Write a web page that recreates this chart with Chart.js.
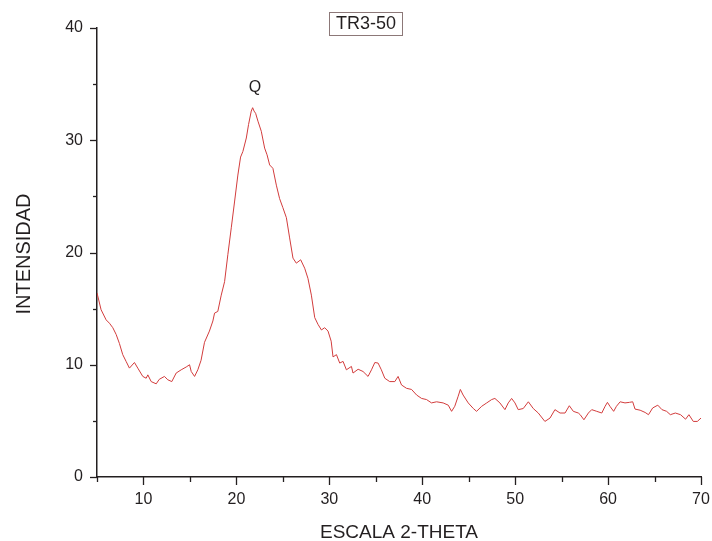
<!DOCTYPE html>
<html>
<head>
<meta charset="utf-8">
<script src="https://cdn.jsdelivr.net/npm/chart.js@4.4.1/dist/chart.umd.min.js"></script>
<style>
    html, body { margin: 0; padding: 0; background: #fff; }
    #wrap { position: relative; width: 712px; height: 541px; }
</style>
</head>
<body>
<div id="wrap"><canvas id="xrd"></canvas></div>
<script>
// difractograma TR3-50, valores
const angulo = [
    5.0, 5.44, 5.98, 6.34, 6.7, 7.06, 7.41, 7.77, 8.13, 8.49, 9.03, 9.39, 9.93, 10.29, 10.47, 10.83,
    11.37, 11.7, 12.26, 12.62, 13.05, 13.52, 14.06, 14.6, 14.96, 15.14, 15.5, 15.85, 16.2, 16.57, 17.1,
    17.47, 17.65, 18.0, 18.37, 18.73, 19.08, 19.45, 19.8, 20.16, 20.45, 20.7, 21.07, 21.31, 21.6, 21.75,
    21.9, 22.07, 22.32, 22.68, 23.04, 23.3, 23.58, 23.93, 24.3, 24.65, 25.0, 25.38, 25.73, 26.09, 26.45,
    26.92, 27.35, 27.7, 28.07, 28.43, 28.78, 29.15, 29.5, 29.86, 30.2, 30.4, 30.77, 31.12, 31.48, 31.84,
    32.38, 32.55, 33.1, 33.63, 34.17, 34.54, 34.9, 35.25, 35.6, 35.97, 36.5, 37.05, 37.4, 37.77, 38.31,
    38.85, 39.4, 39.93, 40.46, 41.0, 41.54, 42.25, 42.8, 43.16, 43.5, 43.87, 44.1, 44.4, 44.95, 45.5,
    45.85, 46.4, 46.94, 47.47, 47.82, 48.36, 48.9, 49.26, 49.62, 49.98, 50.33, 50.87, 51.42, 51.95, 52.49,
    53.2, 53.75, 54.28, 54.83, 55.37, 55.83, 56.26, 56.8, 57.0, 57.4, 57.88, 58.24, 58.78, 59.32, 59.68,
    59.93, 60.2, 60.6, 60.9, 61.3, 61.82, 62.3, 62.65, 62.9, 63.45, 63.99, 64.35, 64.8, 65.35, 65.8,
    66.3, 66.7, 67.24, 67.8, 68.34, 68.7, 69.17, 69.6, 70.0
];
const intensidad = [
    16.4, 14.9, 14.0, 13.7, 13.3, 12.7, 11.9, 10.9, 10.3, 9.7, 10.2, 9.7, 8.96, 8.8, 9.1, 8.5,
    8.3, 8.7, 8.96, 8.66, 8.5, 9.26, 9.55, 9.8, 10.0, 9.4, 8.96, 9.55, 10.4, 12.0, 13.0,
    13.9, 14.6, 14.75, 16.2, 17.4, 19.8, 22.2, 24.5, 26.9, 28.5, 29.0, 30.2, 31.4, 32.6, 32.9,
    32.6, 32.4, 31.7, 30.8, 29.3, 28.7, 27.8, 27.5, 26.0, 24.8, 24.0, 23.1, 21.3, 19.5, 19.05,
    19.35, 18.6, 17.7, 16.2, 14.2, 13.6, 13.1, 13.3, 13.0, 12.1, 10.7, 10.9, 10.15, 10.3, 9.55,
    9.85, 9.26, 9.6, 9.4, 8.96, 9.55, 10.2, 10.15, 9.55, 8.8, 8.5, 8.5, 8.96, 8.2, 7.9,
    7.8, 7.3, 7.0, 6.9, 6.6, 6.7, 6.6, 6.4, 5.85, 6.3, 7.2, 7.8, 7.3, 6.6, 6.1,
    5.85, 6.3, 6.6, 6.9, 7.0, 6.6, 6.0, 6.6, 7.0, 6.6, 6.0, 6.1, 6.7, 6.1, 5.7,
    4.95, 5.25, 6.0, 5.7, 5.7, 6.35, 5.85, 5.7, 5.55, 5.1, 5.7, 6.0, 5.85, 5.7, 6.3,
    6.65, 6.3, 5.85, 6.3, 6.7, 6.6, 6.65, 6.7, 6.05, 5.95, 5.75, 5.55, 6.15, 6.4, 6.0,
    5.85, 5.55, 5.7, 5.55, 5.15, 5.55, 4.95, 4.95, 5.25
];
const ticksX = [10, 20, 30, 40, 50, 60, 70];
const ticksY = [0, 10, 20, 30, 40];
const titulo = 'TR3-50';
const picoLabel = { text: 'Q', x: 22, y: 34.7 };

const FONT = '"Liberation Sans", Arial, sans-serif';
const INK = '#231f20';

// ticks mayores/menores, recuadro del título y rótulos
const decoPlugin = {
    id: 'deco',
    afterDraw(chart) {
        const ctx = chart.ctx;
        const xs = chart.scales.x, ys = chart.scales.y;
        const area = chart.chartArea;
        ctx.save();
        ctx.strokeStyle = INK;
        ctx.lineWidth = 1.3;
        for (let v = 5; v <= 70; v += 5) {
            const px = Math.round(xs.getPixelForValue(v)) + 0.5;
            const len = v % 10 === 0 ? 8 : 5;
            ctx.beginPath(); ctx.moveTo(px, area.bottom); ctx.lineTo(px, area.bottom + len); ctx.stroke();
        }
        for (let v = 0; v <= 40; v += 5) {
            const py = Math.round(ys.getPixelForValue(v)) + 0.5;
            const len = v % 10 === 0 ? 7 : 4;
            ctx.beginPath(); ctx.moveTo(area.left, py); ctx.lineTo(area.left - len, py); ctx.stroke();
        }

        // título en recuadro
        ctx.font = '18px ' + FONT;
        ctx.fillStyle = INK;
        ctx.textAlign = 'center';
        ctx.textBaseline = 'middle';
        ctx.fillText(titulo, 366, 24.5);
        ctx.strokeStyle = '#8c7878';
        ctx.lineWidth = 1;
        ctx.strokeRect(329.5, 12.5, 73, 23);

        // etiqueta del pico
        ctx.font = '16px ' + FONT;
        ctx.fillStyle = INK;
        ctx.fillText(picoLabel.text, xs.getPixelForValue(picoLabel.x), ys.getPixelForValue(picoLabel.y));

        // títulos de ejes
        ctx.font = '19px ' + FONT;
        ctx.fillText('ESCALA 2-THETA', 399, 533);
        ctx.save();
        ctx.translate(24, 254);
        ctx.rotate(-Math.PI / 2);
        ctx.font = '20px ' + FONT;
        ctx.fillText('INTENSIDAD', 0, 0);
        ctx.restore();
        ctx.restore();
    }
};

new Chart(document.getElementById('xrd'), {
    type: 'scatter',
    data: {
        datasets: [{
            data: angulo.map((a, i) => ({ x: a, y: intensidad[i] })),
            showLine: true,
            borderColor: '#d23c3c',
            borderWidth: 1,
            pointRadius: 0,
            tension: 0
        }]
    },
    options: {
        responsive: true,
        maintainAspectRatio: false,
        animation: false,
        layout: { padding: { left: 0, right: 11, top: 28, bottom: 0 } },
        plugins: { legend: { display: false }, tooltip: { enabled: false } },
        scales: {
            x: {
                type: 'linear', min: 5, max: 70,
                afterBuildTicks: s => { s.ticks = ticksX.map(v => ({ value: v })); },
                afterFit: s => { s.height = 64; s.paddingRight = 0; s.paddingLeft = 0; },
                grid: { display: true, drawOnChartArea: false, color: 'rgba(0,0,0,0)', tickLength: 8 },
                border: { display: true, color: INK, width: 1.5 },
                ticks: { color: INK, font: { family: FONT, size: 16 }, padding: 5, maxRotation: 0 }
            },
            y: {
                min: 0, max: 40,
                afterBuildTicks: s => { s.ticks = ticksY.map(v => ({ value: v })); },
                afterFit: s => { s.width = 97; s.paddingTop = 0; s.paddingBottom = 0; },
                grid: { display: true, drawOnChartArea: false, color: 'rgba(0,0,0,0)', tickLength: 7 },
                border: { display: true, color: INK, width: 1.5 },
                ticks: { color: INK, font: { family: FONT, size: 16 }, padding: 7 }
            }
        }
    },
    plugins: [decoPlugin]
});
</script>
</body>
</html>
